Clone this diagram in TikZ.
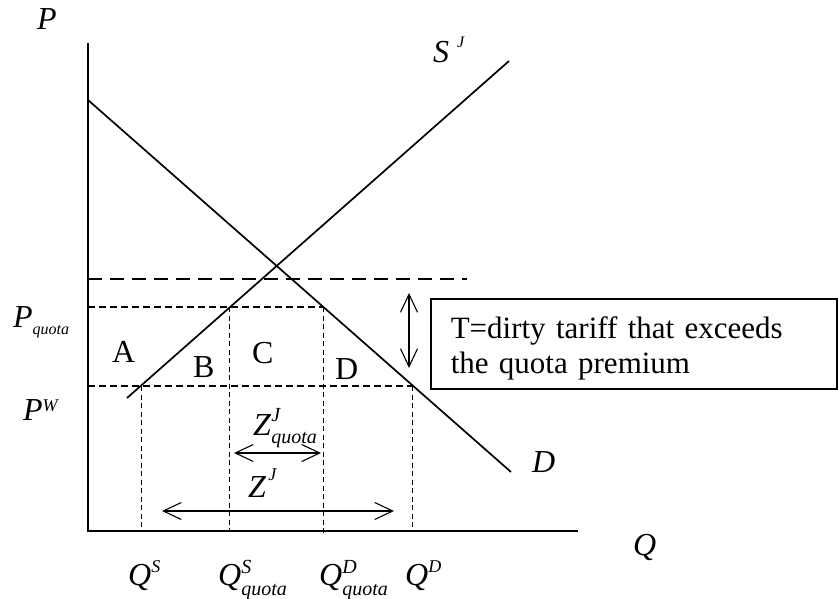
\documentclass[tikz,border=0pt]{standalone}
\usepackage{fontspec}
\setmainfont{Liberation Serif}
\usetikzlibrary{arrows.meta}
\newcommand\supr[3][12pt]{\raisebox{#1}{\fontsize{#2}{#2}\selectfont\itshape #3}}
\newcommand\subr[3][-7pt]{\raisebox{#1}{\fontsize{#2}{#2}\selectfont\itshape #3}}
% stacked superscript over subscript: {sup}{sub}{lowering}{size}
\newcommand\supsub[4]{\raisebox{#3}{\fontsize{#4}{#4}\selectfont\itshape
  \begin{tabular}[b]{@{}l@{}}#1\\[2pt]#2\end{tabular}}}
\begin{document}
\begin{tikzpicture}[x=1pt,y=-1pt,
  every node/.style={font=\fontsize{32}{35}\selectfont, inner sep=0pt},
  lab/.style={anchor=base west},
  curve/.style={line width=1.7pt},
  axisline/.style={line width=2pt},
  longdash/.style={line width=1.3pt, dash pattern=on 14pt off 8pt},
  shortdash/.style={line width=1.2pt, dash pattern=on 7pt off 4pt},
  vdash/.style={line width=1pt, dash pattern=on 5pt off 3.5pt},
  dbl/.style={line width=1.1pt, {Straight Barb[length=18pt,width=17pt]}-{Straight Barb[length=18pt,width=17pt]}}]
\useasboundingbox (0,0) rectangle (838,599);
% axes
\coordinate (O) at (88,531);
\coordinate (ytop) at (88,43);
\coordinate (xend) at (578,531);
\draw[axisline] (ytop) -- (O) -- (xend);
% demand and supply
\coordinate (d1) at (88,100);
\coordinate (d2) at (511,472);
\coordinate (s1) at (127,398);
\coordinate (s2) at (509,61);
\draw[curve] (d1) -- (d2);
\draw[curve] (s1) -- (s2);
% horizontal dashed lines
\coordinate (t1) at (88,279);
\coordinate (t2) at (467,279);
\draw[longdash] (t1) -- (t2);
\coordinate (q0) at (88,307);
\coordinate (qs) at (229,307);
\coordinate (qd) at (323,307);
\draw[shortdash] (q0) -- (qd);
\coordinate (w0) at (88,386);
\coordinate (ws) at (141,386);
\coordinate (wd) at (412,386);
\draw[shortdash] (w0) -- (wd);
% vertical dashed lines
\coordinate (ws0) at (141,531);
\coordinate (qs0) at (229,531);
\coordinate (qd0) at (323,534);
\coordinate (wd0) at (412,531);
\draw[vdash] (ws) -- (ws0);
\draw[vdash] (qs) -- (qs0);
\draw[vdash] (qd) -- (qd0);
\draw[vdash] (wd) -- (wd0);
% arrows
\coordinate (za) at (234,453);
\coordinate (zb) at (321,453);
\draw[dbl] (za) -- (zb);
\coordinate (zc) at (162,511);
\coordinate (zd) at (394,511);
\draw[dbl] (zc) -- (zd);
\coordinate (ta) at (409,293);
\coordinate (tb) at (409,368);
\draw[dbl] (ta) -- (tb);
% box
\node[draw, line width=1.5pt, anchor=north west, text width=366pt, inner xsep=20pt,
      minimum height=90pt, align=left, font=\fontsize{31}{35}\selectfont] (box) at (430,298)
  {\rule{0pt}{32pt}T=dirty tariff that exceeds\\the quota premium};
% labels
\node[lab] (lP) at (37,30) {\textit{P}};
\node[lab] (lQ) at (633,555) {\textit{Q}};
\node[lab] (lSJ) at (433,63) {\textit{S}\hspace{8pt}\supr[15pt]{16}{J}};
\node[lab] (lD) at (532,472) {\textit{D}};
\node[lab] (lPq) at (13,327) {\textit{P}\subr{16}{quota}};
\node[lab] (lPW) at (23,420) {\textit{P}\supr[9pt]{18}{W}};
\node[lab] (lA) at (112,362) {A};
\node[lab] (lB) at (193,377) {B};
\node[lab] (lC) at (252,363) {C};
\node[lab] (lDD) at (335,379) {D};
\node[lab] (lZq) at (253,435) {\textit{Z}\supsub{J}{quota}{-8pt}{20}};
\node[lab] (lZ) at (248,497) {\textit{Z}\hspace{2pt}\supr[17pt]{18}{J}};
\node[lab] (lQS) at (128,585) {\textit{Q}\supr[13pt]{18}{S}};
\node[lab] (lQSq) at (218,585) {\textit{Q}\supsub{S}{quota}{-10pt}{20}};
\node[lab] (lQDq) at (319,585) {\textit{Q}\supsub{D}{quota}{-10pt}{20}};
\node[lab] (lQD) at (405,585) {\textit{Q}\supr[13pt]{18}{D}};
\end{tikzpicture}
\end{document}
